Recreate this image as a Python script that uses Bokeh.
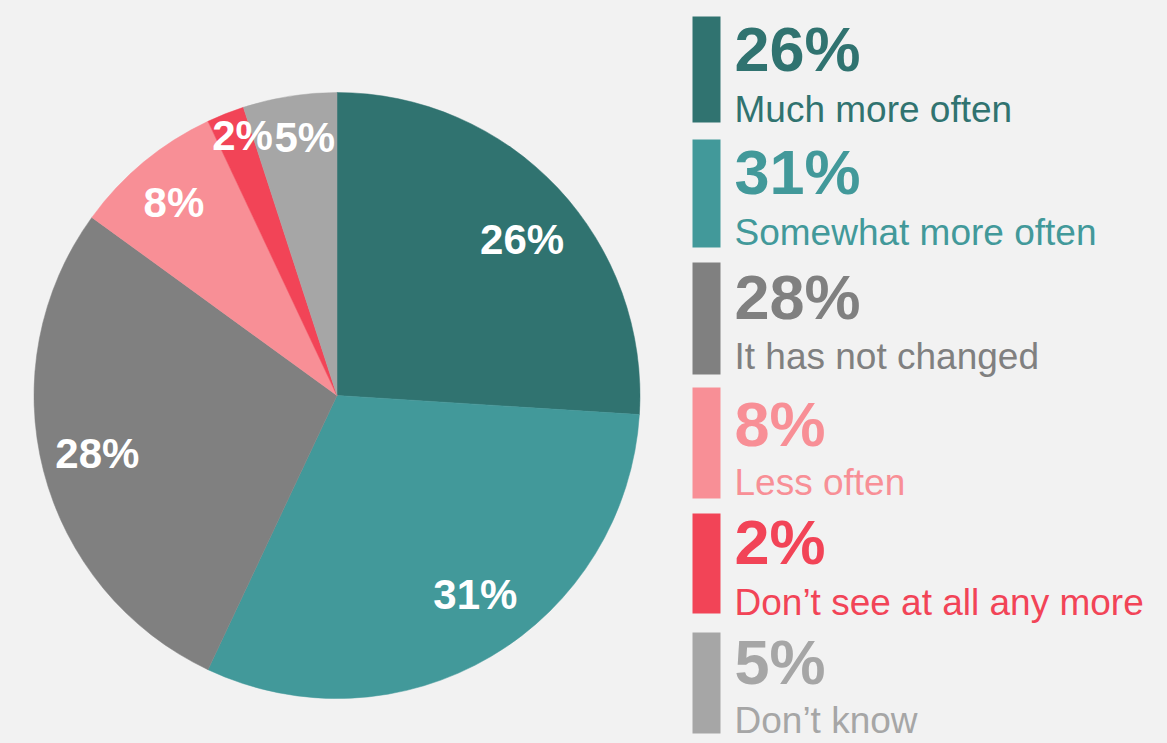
import math
from bokeh.plotting import figure
from bokeh.models import ColumnDataSource, Range1d
from bokeh.core.properties import value
from bokeh.embed import file_html
from bokeh.resources import INLINE

# ---- data ----
categories = ["Much more often", "Somewhat more often", "It has not changed",
              "Less often", "Don\u2019t see at all any more", "Don\u2019t know"]
shares = [26, 31, 28, 8, 2, 5]
pct_labels = ["26%", "31%", "28%", "8%", "2%", "5%"]
colors = ["#307370", "#42999A", "#808080", "#F88F96", "#F24457", "#A6A6A6"]

FONT = "Liberation Sans"
BG = "#F2F2F2"

W, H = 1167, 743
# coordinates: x = pixel, y = 743 - pixel
p = figure(width=W, height=H, output_backend="svg", toolbar_location=None,
           x_range=Range1d(0, W), y_range=Range1d(0, H),
           min_border=0, background_fill_color=BG, border_fill_color=BG,
           outline_line_color=None)
p.axis.visible = False
p.grid.visible = False

cx, cy, R = 336.5, 743 - 395, 303
total = float(sum(shares))
starts, ends, lx, ly = [], [], [], []
cum = 0.0
# label placement tweaks (radius fraction, angle nudge in degrees)
rfac = [0.798, 0.80, 0.814, 0.834, 0.912, 0.858]
anudge = [-3.15, 4.2, -0.7, 0.6, -1.6, -1.9]
for i, s in enumerate(shares):
    a0 = math.pi / 2 - 2 * math.pi * cum / total
    cum += s
    a1 = math.pi / 2 - 2 * math.pi * cum / total
    starts.append(a1)
    ends.append(a0)
    mid = (a0 + a1) / 2 + math.radians(anudge[i])
    lx.append(cx + rfac[i] * R * math.cos(mid))
    ly.append(cy + rfac[i] * R * math.sin(mid))

src = ColumnDataSource(dict(start=starts, end=ends, color=colors,
                            lx=lx, ly=ly, lab=pct_labels))
p.wedge(x=cx, y=cy, radius=R, start_angle="start", end_angle="end",
        fill_color="color", line_color="color", line_width=0.5, source=src)
p.text(x="lx", y="ly", text="lab", source=src, text_color="white",
       text_font=value(FONT), text_font_style="bold", text_font_size="42px",
       text_align="center", text_baseline="middle")

# ---- legend blocks (layout in pixels from top) ----
bar_tops = [16, 139, 262, 387, 513, 632]
bar_bottoms = [122, 247, 374, 498, 613, 733]
pct_base = [72, 195, 320, 447, 565, 685]
cat_base = [122, 245, 369, 495, 615, 733]
bx0, bx1 = 692, 720
leg = ColumnDataSource(dict(
    left=[bx0] * 6, right=[bx1] * 6,
    top=[743 - t for t in bar_tops], bottom=[743 - b for b in bar_bottoms],
    color=colors,
    tx=[734] * 6,
    py=[743 - (b - 23.5) for b in pct_base],
    cy=[743 - (b - 13.5) for b in cat_base],
    pct=pct_labels, cat=categories))
p.quad(left="left", right="right", top="top", bottom="bottom",
       fill_color="color", line_color=None, source=leg)
p.text(x="tx", y="py", text="pct", source=leg, text_color="color",
       text_font=value(FONT), text_font_style="bold", text_font_size="63px",
       text_align="left", text_baseline="middle")
p.text(x="tx", y="cy", text="cat", source=leg, text_color="color",
       text_font=value(FONT), text_font_size="37px",
       text_align="left", text_baseline="middle")

html = file_html(p, INLINE)
html = html.replace("<head>", "<head>\n<style>body { background: #F2F2F2; margin: 0; }</style>", 1)
open("out.html", "w").write(html)
